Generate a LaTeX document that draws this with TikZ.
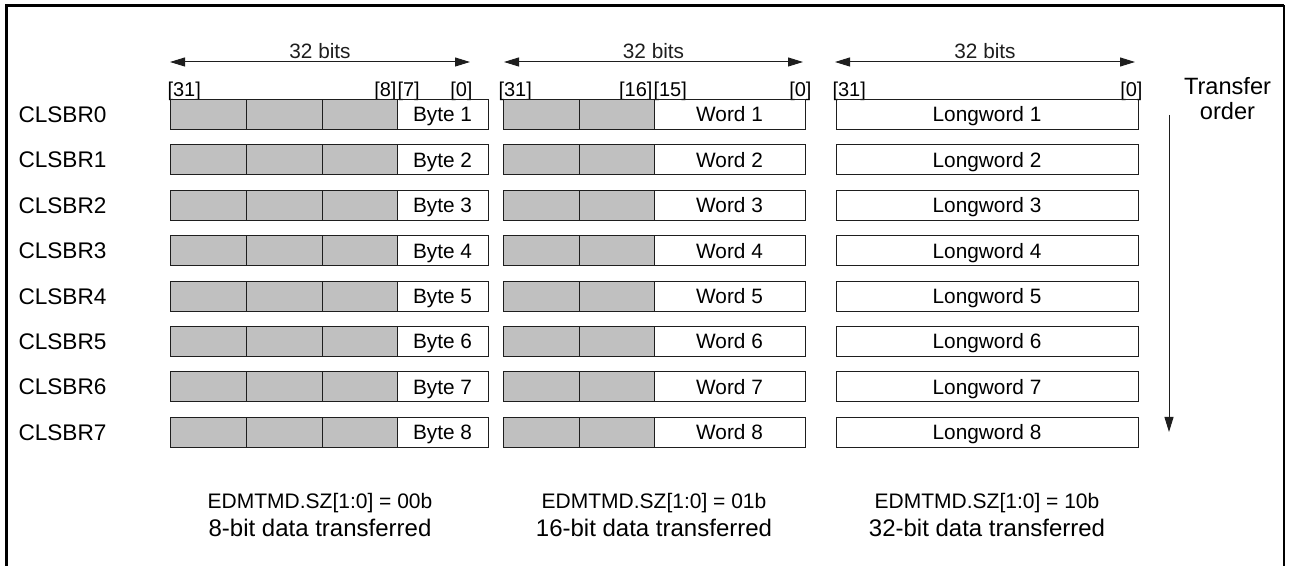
\documentclass[tikz,border=0pt]{standalone}
\usepackage{fontspec}
\setmainfont{Liberation Sans}
\usetikzlibrary{arrows.meta, calc}
\definecolor{cellgray}{HTML}{C0C0C0}
\definecolor{edge}{HTML}{1E1E1E}

\newcommand{\regfont}{\fontsize{11.3}{13}\selectfont}
\newcommand{\celfont}{\fontsize{10.4}{12}\selectfont}
\newcommand{\bitfont}{\fontsize{10}{12}\selectfont}
\newcommand{\ordfont}{\fontsize{11.8}{13}\selectfont}
\newcommand{\modfont}{\fontsize{10.5}{12}\selectfont}
\newcommand{\datfont}{\fontsize{12}{14}\selectfont}

\begin{document}
\begin{tikzpicture}[
  x=0.5pt, y=-0.5pt,
  >={Triangle[length=7.5pt, width=4.5pt]},
  line width=0.5pt,
  cell/.style={draw=edge, line width=0.5pt, minimum height=15pt,
    text height=7.5pt, text depth=0pt,
    inner sep=0pt, outer sep=0pt, anchor=west, font=\celfont},
  grycell/.style={cell, fill=cellgray},
  reglbl/.style={anchor=west, inner sep=0pt, text height=8pt, text depth=0pt,
    font=\regfont},
  bitlbl/.style={inner sep=0pt, font=\bitfont},
  span/.style={<->, edge, line width=0.5pt},
  spanlbl/.style={above, inner sep=1.5pt, font=\celfont},
  ordlbl/.style={anchor=base, inner sep=0pt, font=\ordfont},
  modlbl/.style={anchor=base, inner sep=0pt, font=\modfont},
  datlbl/.style={anchor=base, inner sep=0pt, font=\datfont}
]
\useasboundingbox (0,0) rectangle (1290,566);

% ── Frame (open at the bottom) ──
\draw[line width=1.5pt] (6,566) -- (6,5.5) -- (1283.5,5.5);
\draw[line width=1pt] (1283.5,5.5) -- (1283.5,566);

% ── Width arrows ──
\coordinate (ba) at (170,62);
\coordinate (bb) at (470,62);
\coordinate (wa) at (504,62);
\coordinate (wb) at (803,62);
\coordinate (la) at (835,62);
\coordinate (lb) at (1135,62);
\draw[span] (ba) -- node[spanlbl] (bspan) {32 bits} (bb);
\draw[span] (wa) -- node[spanlbl] (wspan) {32 bits} (wb);
\draw[span] (la) -- node[spanlbl] (lspan) {32 bits} (lb);

% ── Bit positions ──
\node[bitlbl, anchor=base west] (b31) at (167,97) {[31]};
\node[bitlbl, anchor=base east] (b8) at (397,97) {[8]};
\node[bitlbl, anchor=base west] (b7) at (397,97) {[7]};
\node[bitlbl, anchor=base east] (b0) at (473,97) {[0]};
\node[bitlbl, anchor=base west] (w31) at (498,97) {[31]};
\node[bitlbl, anchor=base east] (w16) at (653,97) {[16]};
\node[bitlbl, anchor=base west] (w15) at (653,97) {[15]};
\node[bitlbl, anchor=base east] (w0) at (812,97) {[0]};
\node[bitlbl, anchor=base west] (l31) at (832,97) {[31]};
\node[bitlbl, anchor=base east] (l0) at (1143,97) {[0]};

% ── Registers CLSBR0..7 ──
\foreach \i [evaluate=\i as \y using 114.5+45.4*\i,
             evaluate=\i as \n using int(\i+1)] in {0,...,7} {
  \node[reglbl] (r\i) at (18,\y) {CLSBR\i};
  % 8-bit
  \node[grycell, minimum width=38pt] (b\i-3) at (170,\y) {};
  \node[grycell, minimum width=38pt] (b\i-2) at (b\i-3.east) {};
  \node[grycell, minimum width=37.5pt] (b\i-1) at (b\i-2.east) {};
  \node[cell, minimum width=45.5pt] (b\i-0) at (b\i-1.east) {Byte \n};
  % 16-bit
  \node[grycell, minimum width=38pt] (w\i-2) at (503,\y) {};
  \node[grycell, minimum width=37.5pt] (w\i-1) at (w\i-2.east) {};
  \node[cell, minimum width=75.5pt] (w\i-0) at (w\i-1.east) {Word \n};
  % 32-bit
  \node[cell, minimum width=151pt] (l\i) at (836,\y) {Longword \n};
}

% ── Transfer order ──
\node[ordlbl] (xfer) at (1227.5,95) {Transfer};
\node[ordlbl] (ordr) at (1227.5,120) {order};
\coordinate (ta) at (1169,115);
\coordinate (tb) at (1169,432);
\draw[->, edge] (ta) -- (tb);

% ── Size settings ──
\node[modlbl] (m8) at (320,509) {EDMTMD.SZ[1:0] = 00b};
\node[datlbl] (d8) at (320,536) {8-bit data transferred};
\node[modlbl] (m16) at (654,509) {EDMTMD.SZ[1:0] = 01b};
\node[datlbl] (d16) at (654,536) {16-bit data transferred};
\node[modlbl] (m32) at (987,509) {EDMTMD.SZ[1:0] = 10b};
\node[datlbl] (d32) at (987,536) {32-bit data transferred};

\end{tikzpicture}
\end{document}
